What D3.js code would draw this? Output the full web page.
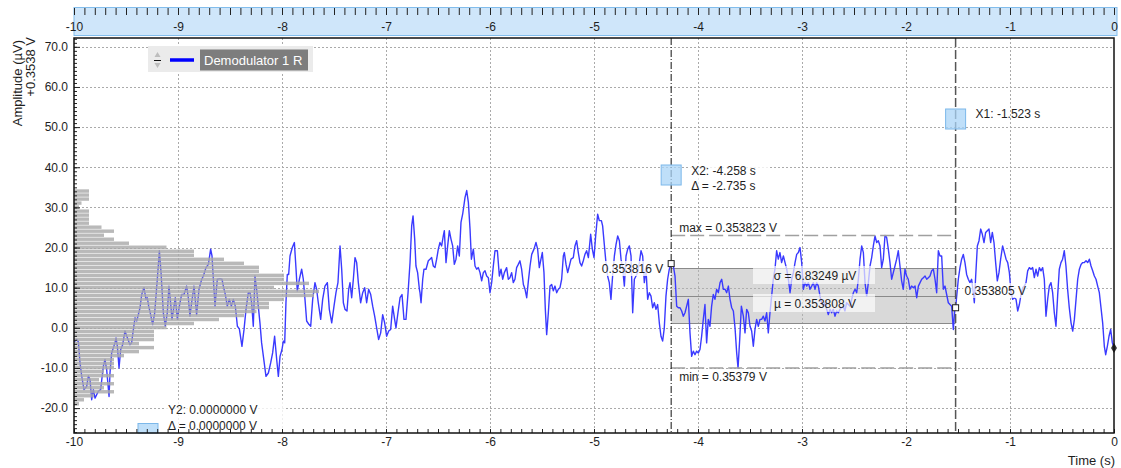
<!DOCTYPE html>
<html lang="en">
<head>
<meta charset="utf-8">
<title>Demodulator 1 R</title>
<script src="https://cdn.jsdelivr.net/npm/d3@7/dist/d3.min.js"></script>
<style>
  body { margin: 0; background: #fff; }
  svg text { font-family: Arial, "Liberation Sans", sans-serif; font-size: 12px; fill: #1e1e1e; }
  .axis path { display: none; }
  .axis line { stroke: #222; }
</style>
</head>
<body>
<script>
// time (s), amplitude (uV above 0.3538 V)
let trace = [
  [-10.000, -3.5], [-9.974, -2.9], [-9.958, -3.5], [-9.942, -8.75], [-9.926, -12], [-9.904, -15.4],
  [-9.878, -14.6], [-9.862, -12], [-9.846, -12.9], [-9.830, -17.9], [-9.814, -15.4], [-9.798, -17.5],
  [-9.766, -15.8], [-9.744, -15.4], [-9.718, -9.6], [-9.702, -7.9], [-9.686, -10.4], [-9.663, -17.1],
  [-9.654, -11.25], [-9.638, -6.25], [-9.606, -3.75], [-9.596, -2.5], [-9.583, -4.6], [-9.567, -10],
  [-9.551, -5.4], [-9.532, -4.2], [-9.510, -0.8], [-9.487, -2.5], [-9.462, -4.2], [-9.446, -3.75],
  [-9.429, -0.4], [-9.413, 2.5], [-9.397, 1.7], [-9.365, 5], [-9.349, 8.3], [-9.327, 10],
  [-9.308, 7.1], [-9.295, 7.5], [-9.282, 5.4], [-9.263, 3.3], [-9.244, 0.8], [-9.224, 3.75],
  [-9.199, 12.1], [-9.179, 19.2], [-9.163, 13.75], [-9.141, 3.75], [-9.122, 0.4], [-9.103, 3.75],
  [-9.087, 10.4], [-9.071, 6.25], [-9.058, 2.1], [-9.038, 5.4], [-9.026, 7.5], [-9.006, 2.1],
  [-8.987, 5.4], [-8.965, 8.3], [-8.942, 8.3], [-8.917, 10.4], [-8.901, 7.5], [-8.885, 2.9],
  [-8.869, 6.25], [-8.846, 10.4], [-8.821, 3.3], [-8.798, 9.6], [-8.772, 12.1], [-8.756, 12.9],
  [-8.731, 15], [-8.708, 15.8], [-8.686, 19.6], [-8.673, 17.9], [-8.660, 12.1], [-8.644, 5.4],
  [-8.622, 12.1], [-8.596, 12.25], [-8.577, 12.1], [-8.564, 10.4], [-8.545, 8.3], [-8.526, 5.4],
  [-8.506, 7.1], [-8.487, 5.4], [-8.468, 7.1], [-8.449, 5.4], [-8.429, 0.4], [-8.410, -0.25],
  [-8.385, -4.6], [-8.365, -0.4], [-8.346, 4.6], [-8.324, 8.75], [-8.308, 8.75], [-8.292, 6.25],
  [-8.276, 0.4], [-8.260, 12.9], [-8.244, 9.6], [-8.228, 5.4], [-8.212, 1.25], [-8.196, -3.75],
  [-8.179, -7.1], [-8.154, -12.1], [-8.131, -11.25], [-8.109, -8.75], [-8.090, -6.25], [-8.071, -2.1],
  [-8.051, -7.9], [-8.035, -12.1], [-8.019, -7.1], [-8.000, -5.4], [-7.987, -3.3], [-7.974, -3.75],
  [-7.962, 6.25], [-7.949, 13.3], [-7.936, 13.3], [-7.923, 17.9], [-7.901, 20], [-7.881, 21.25],
  [-7.865, 14.6], [-7.853, 9.2], [-7.833, 12.1], [-7.811, 14.6], [-7.795, 12.1], [-7.779, 7.1],
  [-7.763, 1.7], [-7.740, 0.8], [-7.724, 0.4], [-7.705, 7.1], [-7.683, 11.25], [-7.667, 9.6],
  [-7.651, 6.25], [-7.628, 2.1], [-7.609, 7.1], [-7.587, 10.4], [-7.564, 11.25], [-7.545, 4.6],
  [-7.522, 1.25], [-7.500, 5.4], [-7.481, 8.75], [-7.462, 11.25], [-7.442, 20.4], [-7.426, 14.6],
  [-7.410, 6.25], [-7.394, 4.6], [-7.375, 4.2], [-7.359, 9.6], [-7.346, 11.25], [-7.330, 7.5],
  [-7.314, 12.1], [-7.298, 17.5], [-7.282, 16.25], [-7.266, 11.25], [-7.244, 6.25], [-7.224, 8.75],
  [-7.205, 10], [-7.186, 6.25], [-7.167, 9.6], [-7.147, 8.3], [-7.128, 5.4], [-7.109, 2.9],
  [-7.090, 0], [-7.071, -2.9], [-7.051, -1.25], [-7.032, 3.3], [-7.013, 1.25], [-6.994, -2.1],
  [-6.974, -0.8], [-6.955, -0.4], [-6.936, 5.4], [-6.917, 2.1], [-6.904, 0], [-6.885, 3.75],
  [-6.865, 7.5], [-6.846, 8.3], [-6.827, 2.1], [-6.808, 2.1], [-6.788, 8.75], [-6.769, 16.25],
  [-6.753, 25.4], [-6.740, 27.9], [-6.724, 22.1], [-6.712, 15.4], [-6.696, 13.75], [-6.679, 9.6],
  [-6.673, 8.75], [-6.663, 6.25], [-6.647, 12.1], [-6.635, 14.6], [-6.615, 14.6], [-6.593, 16.7],
  [-6.577, 17.1], [-6.561, 17.5], [-6.545, 15.4], [-6.529, 15], [-6.513, 17.1], [-6.497, 19.6],
  [-6.481, 21.25], [-6.465, 20.4], [-6.449, 22.9], [-6.439, 24.2], [-6.423, 16.25], [-6.407, 20.4],
  [-6.391, 24.2], [-6.375, 22.1], [-6.359, 20.4], [-6.343, 15.8], [-6.327, 17.1], [-6.311, 20.4],
  [-6.295, 17.9], [-6.279, 26.25], [-6.263, 28.3], [-6.240, 32.5], [-6.224, 34.2], [-6.208, 31.25],
  [-6.192, 24.6], [-6.179, 17.1], [-6.160, 19.6], [-6.144, 15.4], [-6.128, 14.6], [-6.112, 15],
  [-6.096, 13.75], [-6.080, 11.7], [-6.064, 13.75], [-6.048, 14.2], [-6.032, 12.9], [-6.016, 12.5],
  [-6.000, 8.75], [-5.984, 11.25], [-5.968, 15.4], [-5.952, 19.2], [-5.929, 19.2], [-5.910, 12.9],
  [-5.894, 14.6], [-5.878, 12.1], [-5.862, 13.75], [-5.840, 15], [-5.824, 12.1], [-5.808, 12.5],
  [-5.792, 13.75], [-5.776, 11.25], [-5.760, 12.1], [-5.744, 15], [-5.728, 15.8], [-5.712, 16.7],
  [-5.696, 14.6], [-5.679, 10.8], [-5.663, 9.6], [-5.647, 7.5], [-5.631, 11.7], [-5.615, 15.4],
  [-5.599, 18.3], [-5.577, 19.6], [-5.558, 21.25], [-5.542, 19.6], [-5.526, 15], [-5.510, 17.1],
  [-5.497, 18.75], [-5.481, 13.75], [-5.468, 4.6], [-5.455, -1.7], [-5.439, 3.75], [-5.423, 10.4],
  [-5.407, 10.8], [-5.391, 9.2], [-5.375, 10.4], [-5.359, 8.75], [-5.343, 9.6], [-5.327, 10],
  [-5.311, 12.1], [-5.295, 17.9], [-5.285, 18.75], [-5.269, 15.8], [-5.253, 13.75], [-5.237, 15.4],
  [-5.221, 17.1], [-5.199, 17.5], [-5.183, 20.4], [-5.167, 21.7], [-5.151, 18.75], [-5.135, 16.25],
  [-5.119, 15.4], [-5.103, 16.7], [-5.087, 18.3], [-5.071, 19.2], [-5.054, 17.5], [-5.032, 23.3],
  [-5.016, 19.6], [-5.000, 17.5], [-4.984, 22.9], [-4.965, 28.3], [-4.949, 26.7], [-4.929, 26.7],
  [-4.917, 25.4], [-4.901, 20.8], [-4.885, 16.25], [-4.869, 12.9], [-4.853, 11.25], [-4.837, 7.1],
  [-4.821, 12.9], [-4.804, 17.9], [-4.788, 20.8], [-4.772, 22.9], [-4.756, 21.7], [-4.740, 17.1],
  [-4.724, 14.6], [-4.708, 10.4], [-4.692, 17.9], [-4.676, 19.6], [-4.660, 20.4], [-4.644, 17.9],
  [-4.628, 3.75], [-4.612, 12.1], [-4.596, 12.9], [-4.580, 13.75], [-4.564, 16.25], [-4.548, 19.2],
  [-4.532, 17.9], [-4.516, 11.25], [-4.500, 14.6], [-4.484, 7.1], [-4.468, 8.75], [-4.452, 7.9],
  [-4.436, 5], [-4.420, 6.25], [-4.404, 4.6], [-4.388, 5.8], [-4.372, 1.25], [-4.356, -2.1],
  [-4.340, -3.3], [-4.324, 0], [-4.308, 7.9], [-4.292, 12.1], [-4.276, 14.6], [-4.258, 16],
  [-4.237, 15.4], [-4.221, 12.9], [-4.205, 5.4], [-4.189, 5], [-4.173, 5], [-4.157, 4.2],
  [-4.141, 2.9], [-4.125, 3.75], [-4.109, 5.4], [-4.093, 7.1], [-4.077, -1.25], [-4.061, -7.1],
  [-4.045, -5.8], [-4.029, -6.7], [-4.013, -5.8], [-3.997, -6.25], [-3.981, -5.4], [-3.965, -2.1],
  [-3.949, 2.1], [-3.933, 5.8], [-3.917, -3.75], [-3.901, 2.1], [-3.885, 0.4], [-3.869, 5.4],
  [-3.853, 8.3], [-3.837, 7.1], [-3.821, 9.6], [-3.804, 8.75], [-3.788, 11.25], [-3.772, 12.1],
  [-3.756, 9.6], [-3.740, 9.6], [-3.724, 8.75], [-3.708, 10.4], [-3.692, 7.1], [-3.676, 5],
  [-3.660, 4.2], [-3.644, 0], [-3.628, -6.25], [-3.615, -10], [-3.599, -2.9], [-3.583, 5.4],
  [-3.564, 2.9], [-3.548, -1.25], [-3.532, 4.6], [-3.516, 3.75], [-3.500, 0.4], [-3.484, -0.8],
  [-3.468, -4.6], [-3.452, -0.4], [-3.436, 2.1], [-3.420, 0.4], [-3.404, 2.1], [-3.388, 2.1],
  [-3.372, 2.9], [-3.356, 1.7], [-3.340, 3.75], [-3.324, -1.25], [-3.308, 3.75], [-3.292, 7.9],
  [-3.276, 12.1], [-3.260, 14.6], [-3.244, 19.2], [-3.228, 17.1], [-3.212, 18.75], [-3.196, 16.25],
  [-3.179, 17.9], [-3.163, 16.25], [-3.147, 14.6], [-3.131, 12.1], [-3.115, 8.75], [-3.099, 12.1],
  [-3.083, 13.75], [-3.067, 16.25], [-3.051, 18.3], [-3.035, 18.75], [-3.019, 20], [-3.003, 16.25],
  [-2.987, 9.6], [-2.971, 11.25], [-2.955, 10.4], [-2.939, 11.25], [-2.923, 9.6], [-2.907, 10.4],
  [-2.891, 11.25], [-2.875, 9.6], [-2.859, 11.25], [-2.843, 10.4], [-2.827, 7.9], [-2.811, 6.25],
  [-2.795, 5.4], [-2.779, 6.25], [-2.763, 4.6], [-2.747, 3.3], [-2.731, 4.6], [-2.715, 3.75],
  [-2.699, 4.6], [-2.683, 2.9], [-2.667, 4.2], [-2.651, 3.75], [-2.635, 4.6], [-2.619, 5],
  [-2.603, 5.4], [-2.587, 4.2], [-2.571, 6.25], [-2.554, 5.8], [-2.538, 5.4], [-2.522, 7.1],
  [-2.506, 8.75], [-2.490, 9.6], [-2.474, 8.75], [-2.458, 12.1], [-2.442, 17.1], [-2.426, 20.4],
  [-2.410, 18.75], [-2.394, 11.25], [-2.378, 7.9], [-2.362, 11.25], [-2.346, 15.4], [-2.330, 17.5],
  [-2.314, 20.4], [-2.298, 22.9], [-2.282, 21.25], [-2.266, 21.7], [-2.250, 20.4], [-2.234, 15],
  [-2.218, 17.1], [-2.202, 23], [-2.186, 22.5], [-2.170, 19.6], [-2.154, 16.25], [-2.138, 12.1],
  [-2.122, 13.75], [-2.106, 15.4], [-2.090, 17.1], [-2.074, 19.2], [-2.058, 15.4], [-2.042, 11.7],
  [-2.026, 9.6], [-2.010, 14.6], [-1.994, 12.9], [-1.978, 12.1], [-1.962, 9.6], [-1.946, 10.4],
  [-1.929, 10], [-1.913, 10.4], [-1.897, 7.5], [-1.881, 10.4], [-1.865, 11.25], [-1.849, 12.1],
  [-1.833, 12.5], [-1.817, 12.9], [-1.801, 12.1], [-1.785, 12.5], [-1.769, 12.9], [-1.753, 14.2],
  [-1.737, 14.6], [-1.721, 12.1], [-1.705, 8.75], [-1.689, 19.2], [-1.673, 17.9], [-1.657, 17.9],
  [-1.641, 9.6], [-1.625, 10.4], [-1.609, 8.3], [-1.593, 6.25], [-1.577, 5.8], [-1.561, 5.4],
  [-1.545, -0.4], [-1.529, 5.4], [-1.523, 5], [-1.497, 12.1], [-1.481, 15], [-1.465, 17.1],
  [-1.449, 18.3], [-1.433, 16.25], [-1.417, 13.3], [-1.401, 12.1], [-1.385, 11.25], [-1.369, 12.1],
  [-1.353, 8.75], [-1.343, 6.25], [-1.330, 12.9], [-1.314, 20.4], [-1.298, 21.7], [-1.282, 24.6],
  [-1.266, 23.3], [-1.250, 21.25], [-1.234, 23.75], [-1.218, 24.2], [-1.202, 24.6], [-1.186, 21.25],
  [-1.170, 23.75], [-1.154, 21.25], [-1.138, 16.25], [-1.122, 11.7], [-1.106, 13.75], [-1.090, 17.1],
  [-1.071, 20.4], [-1.054, 18.75], [-1.038, 17.1], [-1.022, 16.25], [-1.006, 13.75], [-0.990, 8.75],
  [-0.974, 7.1], [-0.958, 7.5], [-0.942, 7.1], [-0.926, 4.2], [-0.910, 5.8], [-0.894, 8.3],
  [-0.878, 10], [-0.862, 10.4], [-0.846, 11.25], [-0.830, 14.2], [-0.814, 15], [-0.798, 14.6],
  [-0.782, 15], [-0.766, 12.5], [-0.750, 14.6], [-0.734, 12.9], [-0.718, 15], [-0.702, 14.2],
  [-0.686, 15], [-0.670, 12.1], [-0.654, 2.9], [-0.638, 7.1], [-0.622, 10.4], [-0.606, 11.25],
  [-0.590, 8.75], [-0.574, 3.75], [-0.558, 0.4], [-0.542, 7.9], [-0.526, 14.6], [-0.510, 16.25],
  [-0.494, 17.1], [-0.478, 19.2], [-0.462, 15.4], [-0.446, 9.6], [-0.430, 5], [-0.413, 1.25],
  [-0.397, -0.8], [-0.381, 2.1], [-0.365, 7.1], [-0.349, 12.1], [-0.333, 14.6], [-0.317, 15.8],
  [-0.301, 16.25], [-0.285, 16.25], [-0.269, 16.7], [-0.253, 16.25], [-0.237, 17.1], [-0.221, 15.4],
  [-0.205, 14.2], [-0.189, 12.9], [-0.173, 12.1], [-0.157, 10.4], [-0.141, 8.75], [-0.125, 5],
  [-0.109, 1.25], [-0.093, -4.6], [-0.080, -6.7], [-0.064, -4.6], [-0.048, -2.1], [-0.032, -0.4],
  [-0.016, -3.75], [0.000, -5]
]

// histogram on the left edge (uV bin centre, counts)
let histBins = [-19, -18, -17, -16, -15, -14, -13, -12, -11, -10, -9, -8, -7, -6, -5, -4, -3, -2, -1,
  0, 1, 2, 3, 4, 5, 6, 7, 8, 9, 10, 11, 12, 13, 14, 15, 16, 17, 18, 19, 20, 21, 22, 23, 24, 25, 26,
  27, 28, 29, 30, 31, 32, 33, 34]
let histCounts = [2, 4, 8, 16, 12, 16, 10, 16, 12, 16, 16, 16, 20, 26, 32, 26, 32, 32, 32,
  37, 48, 58, 68, 73, 78, 78, 84, 96, 98, 80, 94, 84, 84, 74, 74, 68, 60, 48, 48, 37, 22, 16, 12, 16, 11, 6,
  6, 6, 6, 2, 3, 6, 6, 6]

let xTicks = [-10, -9, -8, -7, -6, -5, -4, -3, -2, -1, 0]
let yTicks = [-20, -10, 0, 10, 20, 30, 40, 50, 60, 70]

// cursors and statistics
let cursorX1 = -1.523
let cursorX2 = -4.258
let valAtX1 = 5, valAtX2 = 16
let statMean = 8, statSigma = 6.83249, statMax = 23, statMin = -10

function draw() {
  let w = 1121, h = 468
  let left = 74, right = 1114, top = 38, bottom = 433

  let xScale = d3.scaleLinear().domain([-10, 0]).range([left, right])
  let yScale = d3.scaleLinear().domain([-26.2, 72.2]).range([bottom, top])
  let hScale = d3.scaleLinear().domain([0, 100]).range([0, 250])

  let svg = d3.select("body").append("svg")
    .attr("width", w)
    .attr("height", h)

  svg.append("clipPath").attr("id", "plotclip")
    .append("rect")
    .attr("x", left).attr("y", top)
    .attr("width", right - left).attr("height", bottom - top)

  // top time band
  svg.append("rect")
    .attr("x", left).attr("y", 7.5)
    .attr("width", right - left + 3).attr("height", 28)
    .attr("fill", "#cfe6fa")
    .attr("stroke", "#82bdec")

  svg.append("g")
    .attr("class", "axis")
    .attr("transform", "translate(0,8)")
    .call(d3.axisBottom(xScale).tickValues(xScale.ticks(100)).tickSize(7).tickFormat(""))

  svg.append("g")
    .attr("class", "axis")
    .attr("transform", "translate(0,8)")
    .call(d3.axisBottom(xScale).tickValues(xTicks).tickSize(0).tickPadding(14).tickFormat((d) => String(d)))

  // grid
  let grid = svg.append("g")
  grid.selectAll(".vg")
    .data(xTicks.slice(1, -1))
    .enter()
    .append("line")
    .attr("x1", (d) => Math.round(xScale(d)) + 0.5)
    .attr("x2", (d) => Math.round(xScale(d)) + 0.5)
    .attr("y1", top).attr("y2", bottom)
    .attr("stroke", "#aaa")
    .attr("stroke-dasharray", "2,2")

  grid.selectAll(".hg")
    .data(yTicks)
    .enter()
    .append("line")
    .attr("x1", left).attr("x2", right)
    .attr("y1", (d) => Math.round(yScale(d)) + 0.5)
    .attr("y2", (d) => Math.round(yScale(d)) + 0.5)
    .attr("stroke", "#aaa")
    .attr("stroke-dasharray", "2,2")

  // mean +- sigma band between the cursors
  let bx1 = xScale(cursorX2), bx2 = xScale(cursorX1)
  svg.append("rect")
    .attr("x", bx1).attr("width", bx2 - bx1)
    .attr("y", yScale(statMean + statSigma))
    .attr("height", yScale(statMean - statSigma) - yScale(statMean + statSigma))
    .attr("fill", "rgb(180,180,180)")
    .attr("fill-opacity", 0.5)

  svg.selectAll(".statline")
    .data([statMean + statSigma, statMean, statMean - statSigma])
    .enter()
    .append("line")
    .attr("x1", bx1).attr("x2", bx2)
    .attr("y1", (d) => Math.round(yScale(d)) + 0.5)
    .attr("y2", (d) => Math.round(yScale(d)) + 0.5)
    .attr("stroke", "#8a8a8a")

  let plot = svg.append("g").attr("clip-path", "url(#plotclip)")

  let line = d3.line()
    .x((d) => xScale(d[0]))
    .y((d) => yScale(d[1]))

  plot.append("path")
    .datum(trace)
    .attr("d", line)
    .attr("fill", "none")
    .attr("stroke", "#3a3aff")
    .attr("stroke-width", 1.4)
    .attr("stroke-linejoin", "round")

  // histogram drawn over the trace
  plot.selectAll(".hist")
    .data(histBins)
    .enter()
    .append("rect")
    .attr("x", left)
    .attr("y", (d) => yScale(d + 0.5))
    .attr("width", (d, i) => hScale(histCounts[i]))
    .attr("height", (d) => yScale(d - 0.5) - yScale(d + 0.5) - 0.6)
    .attr("fill", "#a9a9a9")
    .attr("fill-opacity", 0.82)

  // max / min lines
  svg.selectAll(".mm")
    .data([statMax, statMin])
    .enter()
    .append("line")
    .attr("x1", bx1).attr("x2", bx2)
    .attr("y1", (d) => yScale(d))
    .attr("y2", (d) => yScale(d))
    .attr("stroke", "#a0a0a0")
    .attr("stroke-width", 1.5)
    .attr("stroke-dasharray", "14,5")

  let ann = svg.append("g").style("font-size", "12.7px")

  ann.append("text").attr("x", bx1 + 8).attr("y", yScale(statMax) - 4).text("max = 0.353823 V")
  ann.append("text").attr("x", bx1 + 8).attr("y", yScale(statMin) + 13).text("min = 0.35379 V")

  // cursor lines
  svg.append("line")
    .attr("x1", bx1).attr("x2", bx1).attr("y1", top).attr("y2", bottom)
    .attr("stroke", "#111").attr("stroke-dasharray", "7,2,1,2")
  svg.append("line")
    .attr("x1", bx2).attr("x2", bx2).attr("y1", top).attr("y2", bottom)
    .attr("stroke", "#555").attr("stroke-width", 1.5).attr("stroke-dasharray", "9,3")

  // sigma / mu labels
  ann.append("rect").attr("x", 753).attr("y", 266).attr("width", 122).attr("height", 18)
    .attr("fill", "#fff").attr("fill-opacity", 0.65)
  ann.append("rect").attr("x", 753).attr("y", 294).attr("width", 122).attr("height", 18)
    .attr("fill", "#fff").attr("fill-opacity", 0.65)
  ann.append("text").attr("x", 815).attr("y", 280).attr("text-anchor", "middle").text("σ = 6.83249 µV")
  ann.append("text").attr("x", 815).attr("y", 308).attr("text-anchor", "middle").text("µ = 0.353808 V")

  // value labels at cursors
  ann.append("rect").attr("x", 596).attr("y", 261).attr("width", 68).attr("height", 15)
    .attr("fill", "#fff").attr("fill-opacity", 0.8)
  ann.append("text").attr("x", bx1 - 8).attr("y", 273).attr("text-anchor", "end").text("0.353816 V")
  ann.append("rect").attr("x", 963).attr("y", 283).attr("width", 70).attr("height", 15)
    .attr("fill", "#fff").attr("fill-opacity", 0.7)
  ann.append("text").attr("x", bx2 + 9).attr("y", 295).text("0.353805 V")

  svg.selectAll(".mark")
    .data([[cursorX2, valAtX2], [cursorX1, valAtX1]])
    .enter()
    .append("rect")
    .attr("x", (d) => xScale(d[0]) - 3)
    .attr("y", (d) => yScale(d[1]) - 3)
    .attr("width", 6).attr("height", 6)
    .attr("fill", "#fff").attr("stroke", "#222")

  let last = trace[trace.length - 1]
  svg.append("path")
    .attr("d", d3.symbol(d3.symbolDiamond, 30)())
    .attr("transform", "translate(" + xScale(last[0]) + "," + yScale(last[1]) + ")")
    .attr("fill", "#333")

  // cursor handles
  let handle = (x, y, hh) => svg.append("rect")
    .attr("x", x - 10).attr("y", y).attr("width", 20).attr("height", hh)
    .attr("fill", "#a9d4f7").attr("fill-opacity", 0.75)
    .attr("stroke", "#7cb8ea")
  handle(bx2, 109, 20)
  handle(bx1, 165, 20)
  handle(148, 423.5, 9.5)

  ann.append("text").attr("x", bx2 + 20).attr("y", 118).text("X1: -1.523 s")
  ann.append("rect").attr("x", 688).attr("y", 161).attr("width", 80).attr("height", 32)
    .attr("fill", "#fff").attr("fill-opacity", 0.8)
  ann.append("text").attr("x", bx1 + 20).attr("y", 175).text("X2: -4.258 s")
  ann.append("text").attr("x", bx1 + 20).attr("y", 190).text("Δ = -2.735 s")
  ann.append("rect").attr("x", 165).attr("y", 400).attr("width", 120).attr("height", 32)
    .attr("fill", "#fff").attr("fill-opacity", 0.8)
  ann.append("text").attr("x", 168).attr("y", 414).text("Y2: 0.0000000 V")
  ann.append("text").attr("x", 168).attr("y", 430).text("Δ = 0.0000000 V")

  // legend
  let leg = svg.append("g")
  leg.append("rect").attr("x", 148).attr("y", 46).attr("width", 165).attr("height", 26).attr("fill", "#ebebeb")
  leg.append("path").attr("d", "M154.5,57 L157.5,52 L160.5,57 Z M154.5,63 L157.5,68 L160.5,63 Z").attr("fill", "#bdbdbd")
  leg.append("line").attr("x1", 154).attr("x2", 161).attr("y1", 60.5).attr("y2", 60.5).attr("stroke", "#111")
  leg.append("line").attr("x1", 170).attr("x2", 194).attr("y1", 60).attr("y2", 60).attr("stroke", "#0000ff").attr("stroke-width", 3.5)
  leg.append("rect").attr("x", 200).attr("y", 49.5).attr("width", 108).attr("height", 21).attr("fill", "#7d7d7d")
  leg.append("text").attr("x", 204).attr("y", 65).style("font-size", "13px").style("fill", "#fff").text("Demodulator 1 R")

  // axes
  svg.append("g")
    .attr("class", "axis")
    .attr("transform", "translate(" + left + ",0)")
    .call(d3.axisLeft(yScale).tickValues(d3.range(-26, 73)).tickSize(-3).tickFormat(""))

  svg.append("g")
    .attr("class", "axis")
    .attr("transform", "translate(" + left + ",0)")
    .call(d3.axisLeft(yScale).tickValues(yTicks).tickSize(-6).tickPadding(6).tickFormat((d) => d.toFixed(1)))

  svg.append("g")
    .attr("class", "axis")
    .attr("transform", "translate(0," + bottom + ")")
    .call(d3.axisBottom(xScale).tickValues(xScale.ticks(100)).tickSize(-4).tickFormat(""))

  svg.append("g")
    .attr("class", "axis")
    .attr("transform", "translate(0," + bottom + ")")
    .call(d3.axisBottom(xScale).tickValues(xTicks).tickSize(-4).tickPadding(4).tickFormat((d) => String(d)))

  svg.selectAll(".axis text").style("font-size", "12px").style("fill", "#1e1e1e")

  svg.append("rect")
    .attr("x", left).attr("y", top)
    .attr("width", right - left).attr("height", bottom - top)
    .attr("fill", "none")
    .attr("stroke", "#111")
    .attr("stroke-width", 1.5)

  // titles
  svg.append("text")
    .attr("transform", "translate(17,40) rotate(-90)")
    .attr("text-anchor", "end").attr("dy", "0.35em")
    .style("font-size", "13px")
    .text("Amplitude (µV)")
  svg.append("text")
    .attr("transform", "translate(30,37) rotate(-90)")
    .attr("text-anchor", "end").attr("dy", "0.35em")
    .style("font-size", "13px")
    .text("+0.3538 V")
  svg.append("text")
    .attr("x", right + 1).attr("y", 465)
    .attr("text-anchor", "end")
    .style("font-size", "13px")
    .text("Time (s)")
}

draw()
</script>
</body>
</html>
